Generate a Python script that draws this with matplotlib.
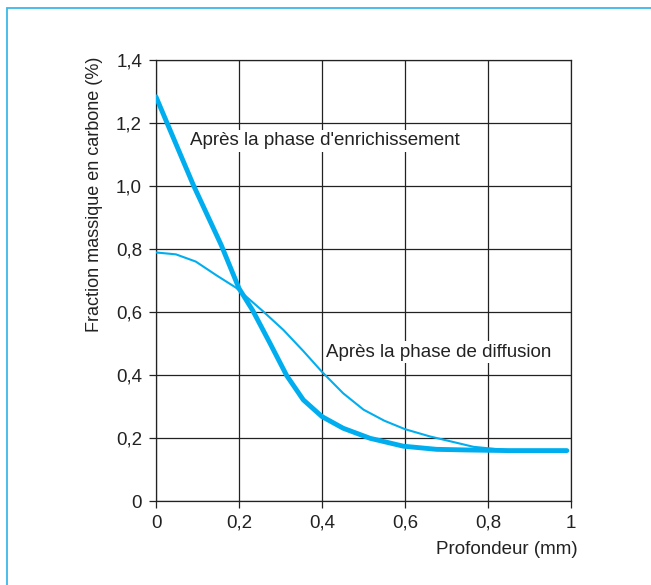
import matplotlib
matplotlib.use("Agg")
import matplotlib.pyplot as plt
from matplotlib.patches import Rectangle

plt.rcParams['font.family'] = ['Liberation Sans', 'DejaVu Sans']

# Profil après la phase d'enrichissement
prof_enrich = [0.0, 0.09, 0.157, 0.2, 0.233, 0.275, 0.315, 0.355, 0.4, 0.451, 0.516,
               0.596, 0.676, 0.75, 0.85, 0.99]
carb_enrich = [1.283, 1.003, 0.813, 0.675, 0.605, 0.5, 0.398, 0.321, 0.268, 0.231, 0.199,
               0.174, 0.164, 0.162, 0.16, 0.16]

# Profil après la phase de diffusion
prof_diff = [0.0, 0.048, 0.096, 0.145, 0.193, 0.259, 0.307, 0.355, 0.4, 0.451, 0.5,
             0.55, 0.6, 0.66, 0.765, 0.85]
carb_diff = [0.789, 0.783, 0.76, 0.717, 0.677, 0.601, 0.543, 0.476, 0.41, 0.342, 0.29,
             0.255, 0.228, 0.205, 0.172, 0.161]

xticks = [0, 0.2, 0.4, 0.6, 0.8, 1.0]
xlabels = ["0", "0,2", "0,4", "0,6", "0,8", "1"]
yticks = [0, 0.2, 0.4, 0.6, 0.8, 1.0, 1.2, 1.4]
ylabels = ["0", "0,2", "0,4", "0,6", "0,8", "1,0", "1,2", "1,4"]

bleu = "#00aeef"
encre = "#222222"
taille = 13.5

fig = plt.figure(figsize=(6.51, 5.85), dpi=100)
# cadre bleu (haut et gauche visibles)
fig.patches.append(Rectangle((7 / 651, -0.1), 1.2, (585 - 8) / 585 + 0.1,
                             transform=fig.transFigure, fill=False,
                             edgecolor="#3cb9e8", linewidth=1.3))

ax = fig.add_axes([156 / 651, 1 - 501 / 585, 415 / 651, 441 / 585])
ax.set_xlim(0, 1)
ax.set_ylim(0, 1.4)

ax.plot(prof_diff, carb_diff, color=bleu, linewidth=1.5, solid_capstyle="round",
        solid_joinstyle="round", zorder=3)
ax.plot(prof_enrich, carb_enrich, color=bleu, linewidth=3.5, solid_capstyle="round",
        solid_joinstyle="round", zorder=4)

ax.set_xticks(xticks)
ax.set_xticklabels(xlabels)
ax.set_yticks(yticks)
ax.set_yticklabels(ylabels)
ax.grid(True, color=encre, linewidth=0.9)
ax.set_axisbelow(True)
for s in ax.spines.values():
    s.set_color(encre)
    s.set_linewidth(0.9)
ax.tick_params(direction="out", length=5, width=0.9, color=encre,
               labelsize=taille, labelcolor=encre, pad=5)

ax.text(0.082, 1.143, "Après la phase d'enrichissement", fontsize=taille, color=encre,
        va="center", ha="left", zorder=5,
        bbox=dict(facecolor="white", edgecolor="none", pad=1.5))
ax.text(0.41, 0.473, "Après la phase de diffusion", fontsize=taille, color=encre,
        va="center", ha="left", zorder=5,
        bbox=dict(facecolor="white", edgecolor="none", pad=1.5))

fig.text(578 / 651, 1 - 549 / 585, "Profondeur (mm)", fontsize=taille, color=encre,
         ha="right", va="center")
fig.text(95 / 651, 1 - 57 / 585, "Fraction massique en carbone (%)", fontsize=13,
         color=encre, rotation=90, ha="center", va="top")

fig.savefig("out.png", dpi=100)
